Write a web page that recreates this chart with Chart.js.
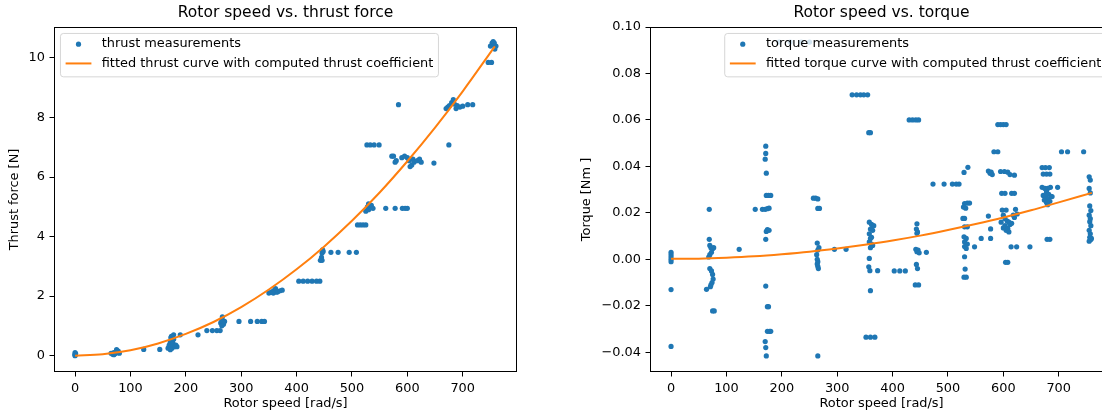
<!DOCTYPE html>
<html>
<head>
<meta charset="utf-8">
<script src="https://cdn.jsdelivr.net/npm/chart.js@4"></script>
<style>
  body { margin: 0; width: 1102px; height: 418px; overflow: hidden; position: relative; background: #fff; }
  canvas { position: absolute; top: 0; }
</style>
</head>
<body>
<canvas id="thrustChart" width="530" height="418" style="left:0px"></canvas>
<canvas id="torqueChart" width="553" height="418" style="left:573px"></canvas>
<script>
// tick labels
const speedTicks = [0, 100, 200, 300, 400, 500, 600, 700];
const thrustTicks = [0, 2, 4, 6, 8, 10];
const torqueTicks = [-0.04, -0.02, 0, 0.02, 0.04, 0.06, 0.08, 0.1];

// thrust measurements (rad/s, N)
const thrustSpeed = [
  0, 0, 0, 0, 1,
  65, 68, 70, 72, 74, 75, 77, 78, 70, 80,
  124, 153,
  168, 170, 172, 173, 174, 175, 176, 177, 178, 180, 182, 184, 172, 178,
  190, 222,
  238, 248, 256, 262,
  263, 265, 266, 268, 270, 265, 267,
  296, 317, 329, 337, 342,
  350, 353, 356, 358, 360, 362, 364, 366, 370, 374,
  404, 412, 420, 428, 436, 442,
  443, 445, 446, 447, 448, 446,
  462, 475, 495, 508,
  510, 515, 520, 525,
  525, 528, 530, 532, 535, 538, 530,
  561, 578, 591, 596, 600,
  527, 533, 540, 549,
  572, 575, 578, 580, 590, 595, 600, 603, 605, 608, 610, 612, 618, 622, 625,
  648, 584, 675,
  670, 673, 676, 680, 683, 685, 688, 690, 695, 700,
  709, 718,
  746, 752,
  750, 753, 755, 757, 760, 758, 755
];
const thrustForce = [
  0.0, 0.05, 0.1, 0.02, 0.07,
  0.08, 0.05, 0.1, 0.06, 0.12, 0.2, 0.1, 0.15, 0.03, 0.08,
  0.21, 0.21,
  0.25, 0.35, 0.45, 0.6, 0.65, 0.25, 0.5, 0.4, 0.55, 0.3, 0.35, 0.3, 0.2, 0.7,
  0.7, 0.7,
  0.84, 0.84, 0.84, 0.84,
  1.1, 1.2, 1.3, 1.05, 1.15, 1.0, 1.15,
  1.15, 1.15, 1.15, 1.15, 1.15,
  2.1, 2.12, 2.15, 2.1, 2.2, 2.25, 2.13, 2.15, 2.18, 2.2,
  2.5, 2.5, 2.5, 2.5, 2.5, 2.5,
  3.2, 3.3, 3.45, 3.55, 3.5, 3.2,
  3.47, 3.47, 3.47, 3.47,
  4.39, 4.39, 4.39, 4.39,
  4.85, 5.0, 5.1, 4.95, 5.05, 4.95, 4.9,
  4.95, 4.95, 4.95, 4.95, 4.95,
  7.08, 7.08, 7.08, 7.08,
  6.7, 6.7, 6.5, 6.55, 6.65, 6.7, 6.65, 6.55, 6.35, 6.4, 6.6, 6.5, 6.55, 6.6, 6.5,
  6.47, 8.43, 7.08,
  8.3, 8.35, 8.4, 8.5, 8.6, 8.45, 8.3, 8.4, 8.35, 8.38,
  8.43, 8.43,
  9.85, 9.85,
  10.4, 10.5, 10.45, 10.5, 10.4, 10.3, 10.55
];

// fitted thrust curve
const fitSpeed = [0, 50, 100, 150, 200, 250, 300, 350, 400, 450, 500, 550, 600, 650, 700, 758];
const fitThrust = [0, 0.05, 0.18, 0.41, 0.73, 1.13, 1.63, 2.22, 2.9, 3.67, 4.53, 5.48, 6.53, 7.66, 8.88, 10.39];

// torque measurements (rad/s, Nm)
const torqueSpeed = [
  0, 0, 0, 0, 0, 0, 0,
  69, 69, 70, 72, 75, 77, 73, 70, 68, 70, 73, 75, 76, 74, 72, 71, 64, 75, 78,
  123, 152,
  171, 171, 170, 172, 172, 176, 180, 165, 170, 174, 177, 172, 174, 177, 171, 171, 174, 176, 174, 178, 180, 170, 171, 172,
  195, 215, 235, 250,
  257, 261, 265, 265, 268, 264, 265, 267, 263, 264, 265, 264, 265, 266, 265,
  295, 316,
  327, 335, 342, 348, 355,
  357, 360,
  358, 362, 366, 360, 364, 358, 362, 360, 358, 362, 364, 360, 358, 357, 359, 373, 360, 352, 360, 368,
  403, 413, 423,
  430, 436, 442, 447,
  444, 443, 445, 444, 442, 446, 444, 448, 461, 443, 445, 441, 447,
  473, 493, 508, 515, 520,
  536, 529, 530, 535, 539, 528, 532, 527, 530, 530, 535, 529, 533, 530, 535, 530, 533, 530, 531, 529, 533,
  548, 560, 573, 577, 577,
  583, 590,
  573, 576, 580, 578,
  590, 595, 600, 605,
  595, 602, 608, 612, 620,
  597, 603, 615, 620,
  598, 605, 600, 603, 607, 610, 612, 615, 618, 620, 600, 605, 610, 622, 625, 596, 603, 608,
  604, 608, 614, 624, 648,
  670, 676, 683, 672, 678, 684, 670, 675, 680, 685, 678, 682, 672, 676, 686, 680, 674, 684, 678, 688, 680, 698, 679, 684,
  705, 716, 745,
  755, 757, 755, 757, 756, 758, 755, 757, 756, 758, 755, 757, 756, 758, 755, 759
];
const torqueValue = [
  0.003, 0.002, 0.001, 0.0, -0.001, -0.013, -0.0375,
  0.0215, 0.0086, 0.006, 0.005, 0.0045, 0.005, 0.003, 0.002, 0.001, -0.004, -0.005, -0.0065, -0.0085, -0.01, -0.011, -0.0118, -0.0129, -0.0222, -0.0222,
  0.0043, 0.0215,
  0.0487, 0.0456, 0.0431, 0.0371, 0.0275, 0.0275, 0.0275, 0.0215, 0.0215, 0.0218, 0.022, 0.012, 0.0128, 0.0125, 0.0086, -0.0115, -0.0204, -0.0204, -0.031, -0.031, -0.031, -0.0354, -0.038, -0.0416,
  0.0935, 0.0935, 0.0935, 0.0935,
  0.0263, 0.0263, 0.026, 0.0219, 0.0219, 0.007, 0.004, 0.005, 0.002, 0.0, -0.001, -0.002, -0.003, -0.004, -0.0416,
  0.0043, 0.0043,
  0.0708, 0.0708, 0.0708, 0.0708, 0.0708,
  0.0545, 0.0545,
  0.016, 0.015, 0.0145, 0.013, 0.0125, 0.011, 0.0095, 0.009, 0.0075, 0.0065, 0.006, 0.005, 0.0004, -0.0032, -0.0049, -0.0049, -0.0135, -0.0335, -0.0335, -0.0335,
  -0.005, -0.005, -0.005,
  0.06, 0.06, 0.06, 0.06,
  0.0153, 0.013, 0.0118, 0.0112, 0.0043, 0.004, 0.0033, 0.0028, 0.003, -0.0022, -0.004, -0.011, -0.011,
  0.0324, 0.0324, 0.0324, 0.0324, 0.0324,
  0.0396, 0.0374, 0.024, 0.0242, 0.0242, 0.0225, 0.022, 0.0176, 0.0176, 0.014, 0.014, 0.0097, 0.009, 0.0075, 0.0066, 0.0055, 0.0047, 0.0011, -0.0042, -0.0077, -0.0077,
  0.0054, 0.009, 0.0186, 0.0131, 0.009,
  0.0463, 0.0463,
  0.038, 0.037, 0.0365, 0.0375,
  0.058, 0.058, 0.058, 0.058,
  0.0378, 0.0378, 0.0375, 0.0365, 0.0362,
  0.0284, 0.0284, 0.0284, 0.0284,
  0.0212, 0.0212, 0.019, 0.0175, 0.0165, 0.016, 0.015, 0.0155, 0.019, 0.018, 0.0135, 0.0125, 0.0118, 0.0215, 0.0195, 0.016, 0.0145, 0.0133,
  -0.0013, -0.0013, 0.0054, 0.0054, 0.0054,
  0.0395, 0.0395, 0.0395, 0.0367, 0.0367, 0.0367, 0.031, 0.0305, 0.0305, 0.031, 0.029, 0.028, 0.0275, 0.027, 0.027, 0.026, 0.0255, 0.025, 0.0245, 0.027, 0.0235, 0.031, 0.0086, 0.0086,
  0.0463, 0.0463, 0.0463,
  0.0355, 0.0341, 0.0305, 0.0286, 0.023, 0.021, 0.019, 0.0175, 0.0162, 0.0145, 0.0125, 0.011, 0.0095, 0.0085, 0.0078, 0.009
];

// fitted torque curve
const fitTorqueSpeed = [0, 50, 100, 150, 200, 250, 300, 350, 400, 450, 500, 550, 600, 650, 700, 760];
const fitTorque = [0.0002, 0.0003, 0.0007, 0.0013, 0.0022, 0.0033, 0.0047, 0.0063, 0.0081, 0.0102, 0.0126, 0.0152, 0.018, 0.0211, 0.0245, 0.0286];

const FONT = '"DejaVu Sans"';
const FS = 12.9;
const BLUE = "#1f77b4";
const ORANGE = "#ff7f0e";

function pairs(xs, ys) {
  return xs.map((x, i) => ({ x: x, y: ys[i] }));
}

// box around plot area + matplotlib-like legend inside it
const axesFrame = {
  id: "axesFrame",
  afterDatasetsDraw(chart, args, opts) {
    const { ctx, chartArea: a } = chart;
    ctx.save();
    ctx.strokeStyle = "#000";
    ctx.lineWidth = 1;
    ctx.strokeRect(Math.round(a.left) + 0.5, Math.round(a.top) + 0.5,
      Math.round(a.right - a.left) - 1, Math.round(a.bottom - a.top) - 1);

    ctx.font = FS + "px " + FONT;
    const textW = Math.max(...opts.labels.map((l) => ctx.measureText(l).width));
    const pad = 0.4 * FS, handle = 2 * FS, gap = 0.8 * FS;
    const w = pad + handle + gap + textW + pad;
    const h = 43.4;
    const x = opts.align === "right" ? a.right - 0.5 * FS - w : a.left + 0.5 * FS;
    const y = a.top + 0.5 * FS;
    const r = 3;
    ctx.beginPath();
    ctx.moveTo(x + r, y);
    ctx.arcTo(x + w, y, x + w, y + h, r);
    ctx.arcTo(x + w, y + h, x, y + h, r);
    ctx.arcTo(x, y + h, x, y, r);
    ctx.arcTo(x, y, x + w, y, r);
    ctx.closePath();
    ctx.fillStyle = "rgba(255,255,255,0.8)";
    ctx.fill();
    ctx.strokeStyle = "rgba(204,204,204,0.8)";
    ctx.stroke();

    const rows = [y + 10.7, y + 30];
    const hx = x + pad;
    ctx.fillStyle = BLUE;
    ctx.beginPath();
    ctx.arc(hx + handle / 2, rows[0], 2.6, 0, Math.PI * 2);
    ctx.fill();
    ctx.strokeStyle = ORANGE;
    ctx.lineWidth = 2;
    ctx.beginPath();
    ctx.moveTo(hx, rows[1]);
    ctx.lineTo(hx + handle, rows[1]);
    ctx.stroke();

    ctx.fillStyle = "#000";
    ctx.textBaseline = "middle";
    ctx.textAlign = "left";
    opts.labels.forEach((l, i) => ctx.fillText(l, hx + handle + gap, rows[i]));
    ctx.restore();
  },
};

function makeChart(id, cfg) {
  const tickFont = { family: FONT, size: FS };
  new Chart(document.getElementById(id), {
    type: "scatter",
    data: {
      datasets: [
        {
          label: cfg.fitLabel,
          data: cfg.fit,
          showLine: true,
          borderColor: ORANGE,
          borderWidth: 2,
          pointRadius: 0,
          cubicInterpolationMode: "monotone",
          order: 0,
        },
        {
          label: cfg.pointLabel,
          data: cfg.points,
          backgroundColor: BLUE,
          borderWidth: 0,
          pointRadius: 2.6,
          order: 1,
        },
      ],
    },
    options: {
      responsive: false,
      animation: false,
      devicePixelRatio: 1,
      layout: { padding: { left: 0, right: cfg.padRight, top: 0, bottom: 0 } },
      plugins: {
        legend: { display: false },
        tooltip: { enabled: false },
        title: {
          display: true,
          text: cfg.title,
          fullSize: false,
          color: "#000",
          font: { family: FONT, size: 15.5, weight: "normal" },
          padding: { top: 4, bottom: 4.4 },
        },
        axesFrame: { labels: [cfg.pointLabel, cfg.fitLabel], align: cfg.legendAlign },
      },
      scales: {
        x: {
          type: "linear",
          min: -38,
          max: 798,
          afterBuildTicks: (s) => { s.ticks = speedTicks.map((v) => ({ value: v })); },
          afterFit: (s) => { s.height = 46; },
          border: { display: false },
          grid: { drawOnChartArea: false, drawTicks: true, tickLength: 4.5, color: "#000" },
          ticks: { color: "#000", font: tickFont, padding: 4.5, maxRotation: 0, callback: (v) => String(v) },
          title: { display: true, text: "Rotor speed [rad/s]", color: "#000", font: tickFont, padding: { top: 0, bottom: 6.3 } },
        },
        y: {
          type: "linear",
          min: cfg.yMin,
          max: cfg.yMax,
          afterBuildTicks: (s) => { s.ticks = cfg.yTicks.map((v) => ({ value: v })); },
          afterFit: (s) => { s.width = cfg.yWidth; },
          border: { display: false },
          grid: { drawOnChartArea: false, drawTicks: true, tickLength: 4.5, color: "#000" },
          ticks: { color: "#000", font: tickFont, padding: 4.5, callback: cfg.yFormat },
          title: { display: true, text: cfg.yTitle, color: "#000", font: tickFont, padding: { top: cfg.yTitlePad, bottom: 0 } },
        },
      },
    },
    plugins: [axesFrame],
  });
}

makeChart("thrustChart", {
  title: "Rotor speed vs. thrust force",
  pointLabel: "thrust measurements",
  fitLabel: "fitted thrust curve with computed thrust coefficient",
  points: pairs(thrustSpeed, thrustForce),
  fit: pairs(fitSpeed, fitThrust),
  yMin: -0.55,
  yMax: 11.04,
  yTicks: thrustTicks,
  yFormat: (v) => String(v),
  yTitle: "Thrust force [N]",
  yWidth: 54,
  yTitlePad: 7,
  padRight: 13,
  legendAlign: "left",
});

makeChart("torqueChart", {
  title: "Rotor speed vs. torque",
  pointLabel: "torque measurements",
  fitLabel: "fitted torque curve with computed thrust coefficient",
  points: pairs(torqueSpeed, torqueValue),
  fit: pairs(fitTorqueSpeed, fitTorque),
  yMin: -0.0485,
  yMax: 0.1,
  yTicks: torqueTicks,
  yFormat: (v) => (v < 0 ? "\u2212" : "") + Math.abs(v).toFixed(2),
  yTitle: "Torque [Nm ]",
  yWidth: 77,
  yTitlePad: 6.2,
  padRight: 13,
  legendAlign: "right",
});
</script>
</body>
</html>
